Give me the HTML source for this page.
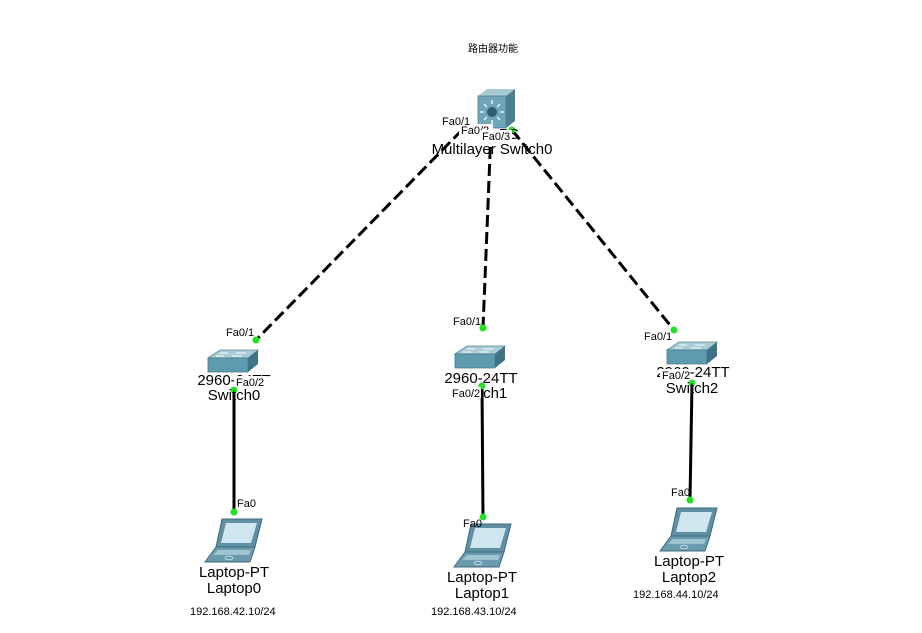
<!DOCTYPE html>
<html><head><meta charset="utf-8"><style>
body{margin:0;background:#fff;}
svg text{font-family:"Liberation Sans","Noto Sans CJK SC",sans-serif;}
</style></head><body>
<svg width="922" height="628" viewBox="0 0 922 628" xmlns="http://www.w3.org/2000/svg">
<defs>
<g id="sw">
<polygon points="0,8 12,0 50,0 40,8" fill="#a9ccd6" stroke="#5d8a99" stroke-width="0.8"/>
<polygon points="0,8 40,8 40,22 0,22" fill="#5f9bb0" stroke="#4a7a8a" stroke-width="0.8"/>
<polygon points="40,8 50,0 50,14 40,22" fill="#3f7488"/>
<g stroke="#e8f3f6" stroke-width="1.2"><line x1="12" y1="3" x2="20" y2="3"/><line x1="28" y1="3" x2="38" y2="3"/><line x1="8" y1="6" x2="16" y2="6"/><line x1="24" y1="6" x2="34" y2="6"/></g>
</g>
<g id="lp">
<polygon points="17,0 57,0 50,28 11,28" fill="#5f8fa3" stroke="#3e6b7d" stroke-width="1"/>
<polygon points="21,4 52,4 46,24 16,24" fill="#cfe6ee"/>
<polygon points="11,28 50,28 45,43 0,43" fill="#6a9aad" stroke="#3e6b7d" stroke-width="1"/>
<polygon points="13,31 46,31 44,36 8,36" fill="#9fc3d0"/>
<ellipse cx="24" cy="39" rx="4" ry="1.8" fill="none" stroke="#cfe6ee" stroke-width="0.8"/>
</g>
</defs>

<text x="468" y="52" font-size="10" fill="#000">路由器功能</text>

<g stroke="#000" stroke-width="3" stroke-dasharray="12,5" fill="none">
<line x1="462" y1="130" x2="256" y2="340"/>
<line x1="491" y1="130" x2="483" y2="328"/>
<line x1="512" y1="130" x2="674" y2="330"/>
</g>
<g stroke="#000" stroke-width="3">
<line x1="234" y1="390" x2="234" y2="512"/>
<line x1="482" y1="385" x2="483" y2="517"/>
<line x1="692" y1="383" x2="690" y2="500"/>
</g>

<g>
<polygon points="478,96 487,89 515,89 506,96" fill="#a6c9d4"/>
<rect x="478" y="96" width="28" height="32" fill="#6fa6b8" stroke="#4c7e8f" stroke-width="0.8"/>
<polygon points="506,96 515,89 515,121 506,128" fill="#4a7f92"/>
<circle cx="492" cy="112" r="5" fill="#2e5f73"/>
<g stroke="#e8f3f6" stroke-width="1.5">
<line x1="492" y1="100" x2="492" y2="104"/><line x1="492" y1="120" x2="492" y2="124"/>
<line x1="480" y1="112" x2="484" y2="112"/><line x1="500" y1="112" x2="504" y2="112"/>
<line x1="484" y1="104" x2="487" y2="107"/><line x1="497" y1="117" x2="500" y2="120"/>
<line x1="500" y1="104" x2="497" y2="107"/><line x1="484" y1="120" x2="487" y2="117"/>
</g>
</g>

<use href="#sw" x="208" y="350"/>
<use href="#sw" x="455" y="346"/>
<use href="#sw" x="667" y="342"/>

<use href="#lp" x="205" y="519"/>
<use href="#lp" x="454" y="524"/>
<use href="#lp" x="660" y="508"/>

<g fill="#22e022">
<circle cx="512" cy="130" r="3.5"/>
<circle cx="256" cy="340" r="3.5"/>
<circle cx="483" cy="328" r="3.5"/>
<circle cx="674" cy="330" r="3.5"/>
<circle cx="234" cy="390" r="3.5"/>
<circle cx="482" cy="386" r="3.5"/>
<circle cx="692" cy="383" r="3.5"/>
<circle cx="234" cy="512" r="3.5"/>
<circle cx="483" cy="517" r="3.5"/>
<circle cx="690" cy="500" r="3.5"/>
</g>

<g font-size="15" fill="#000" text-anchor="middle">
<text x="509" y="139">PS</text>
<text x="492" y="154">Multilayer Switch0</text>
<text x="234" y="385">2960-24TT</text>
<text x="234" y="400">Switch0</text>
<text x="481" y="383">2960-24TT</text>
<text x="481" y="398">Switch1</text>
<text x="693" y="377">2960-24TT</text>
<text x="692" y="393">Switch2</text>
<text x="234" y="577">Laptop-PT</text>
<text x="234" y="593">Laptop0</text>
<text x="482" y="582">Laptop-PT</text>
<text x="482" y="598">Laptop1</text>
<text x="689" y="566">Laptop-PT</text>
<text x="689" y="582">Laptop2</text>
</g>
<g font-size="11" fill="#000">
<rect x="459" y="124" width="34" height="11" fill="#fff"/>
<text x="442" y="125">Fa0/1</text>
<text x="461" y="134">Fa0/2</text>
<rect x="480" y="130" width="32" height="12" fill="#fff"/>
<text x="482" y="140">Fa0/3</text>
<text x="226" y="336">Fa0/1</text>
<text x="453" y="325">Fa0/1</text>
<text x="644" y="340">Fa0/1</text>
<rect x="234" y="376" width="33" height="11" fill="#fff"/>
<text x="236" y="386">Fa0/2</text>
<rect x="451" y="387" width="30" height="11" fill="#fff"/>
<text x="452" y="397">Fa0/2</text>
<rect x="660" y="369" width="30" height="11" fill="#fff"/>
<text x="662" y="379">Fa0/2</text>
<text x="237" y="507">Fa0</text>
<text x="463" y="527">Fa0</text>
<text x="671" y="496">Fa0</text>
<text x="190" y="615">192.168.42.10/24</text>
<text x="431" y="615">192.168.43.10/24</text>
<text x="633" y="598">192.168.44.10/24</text>
</g>
</svg>
</body></html>
